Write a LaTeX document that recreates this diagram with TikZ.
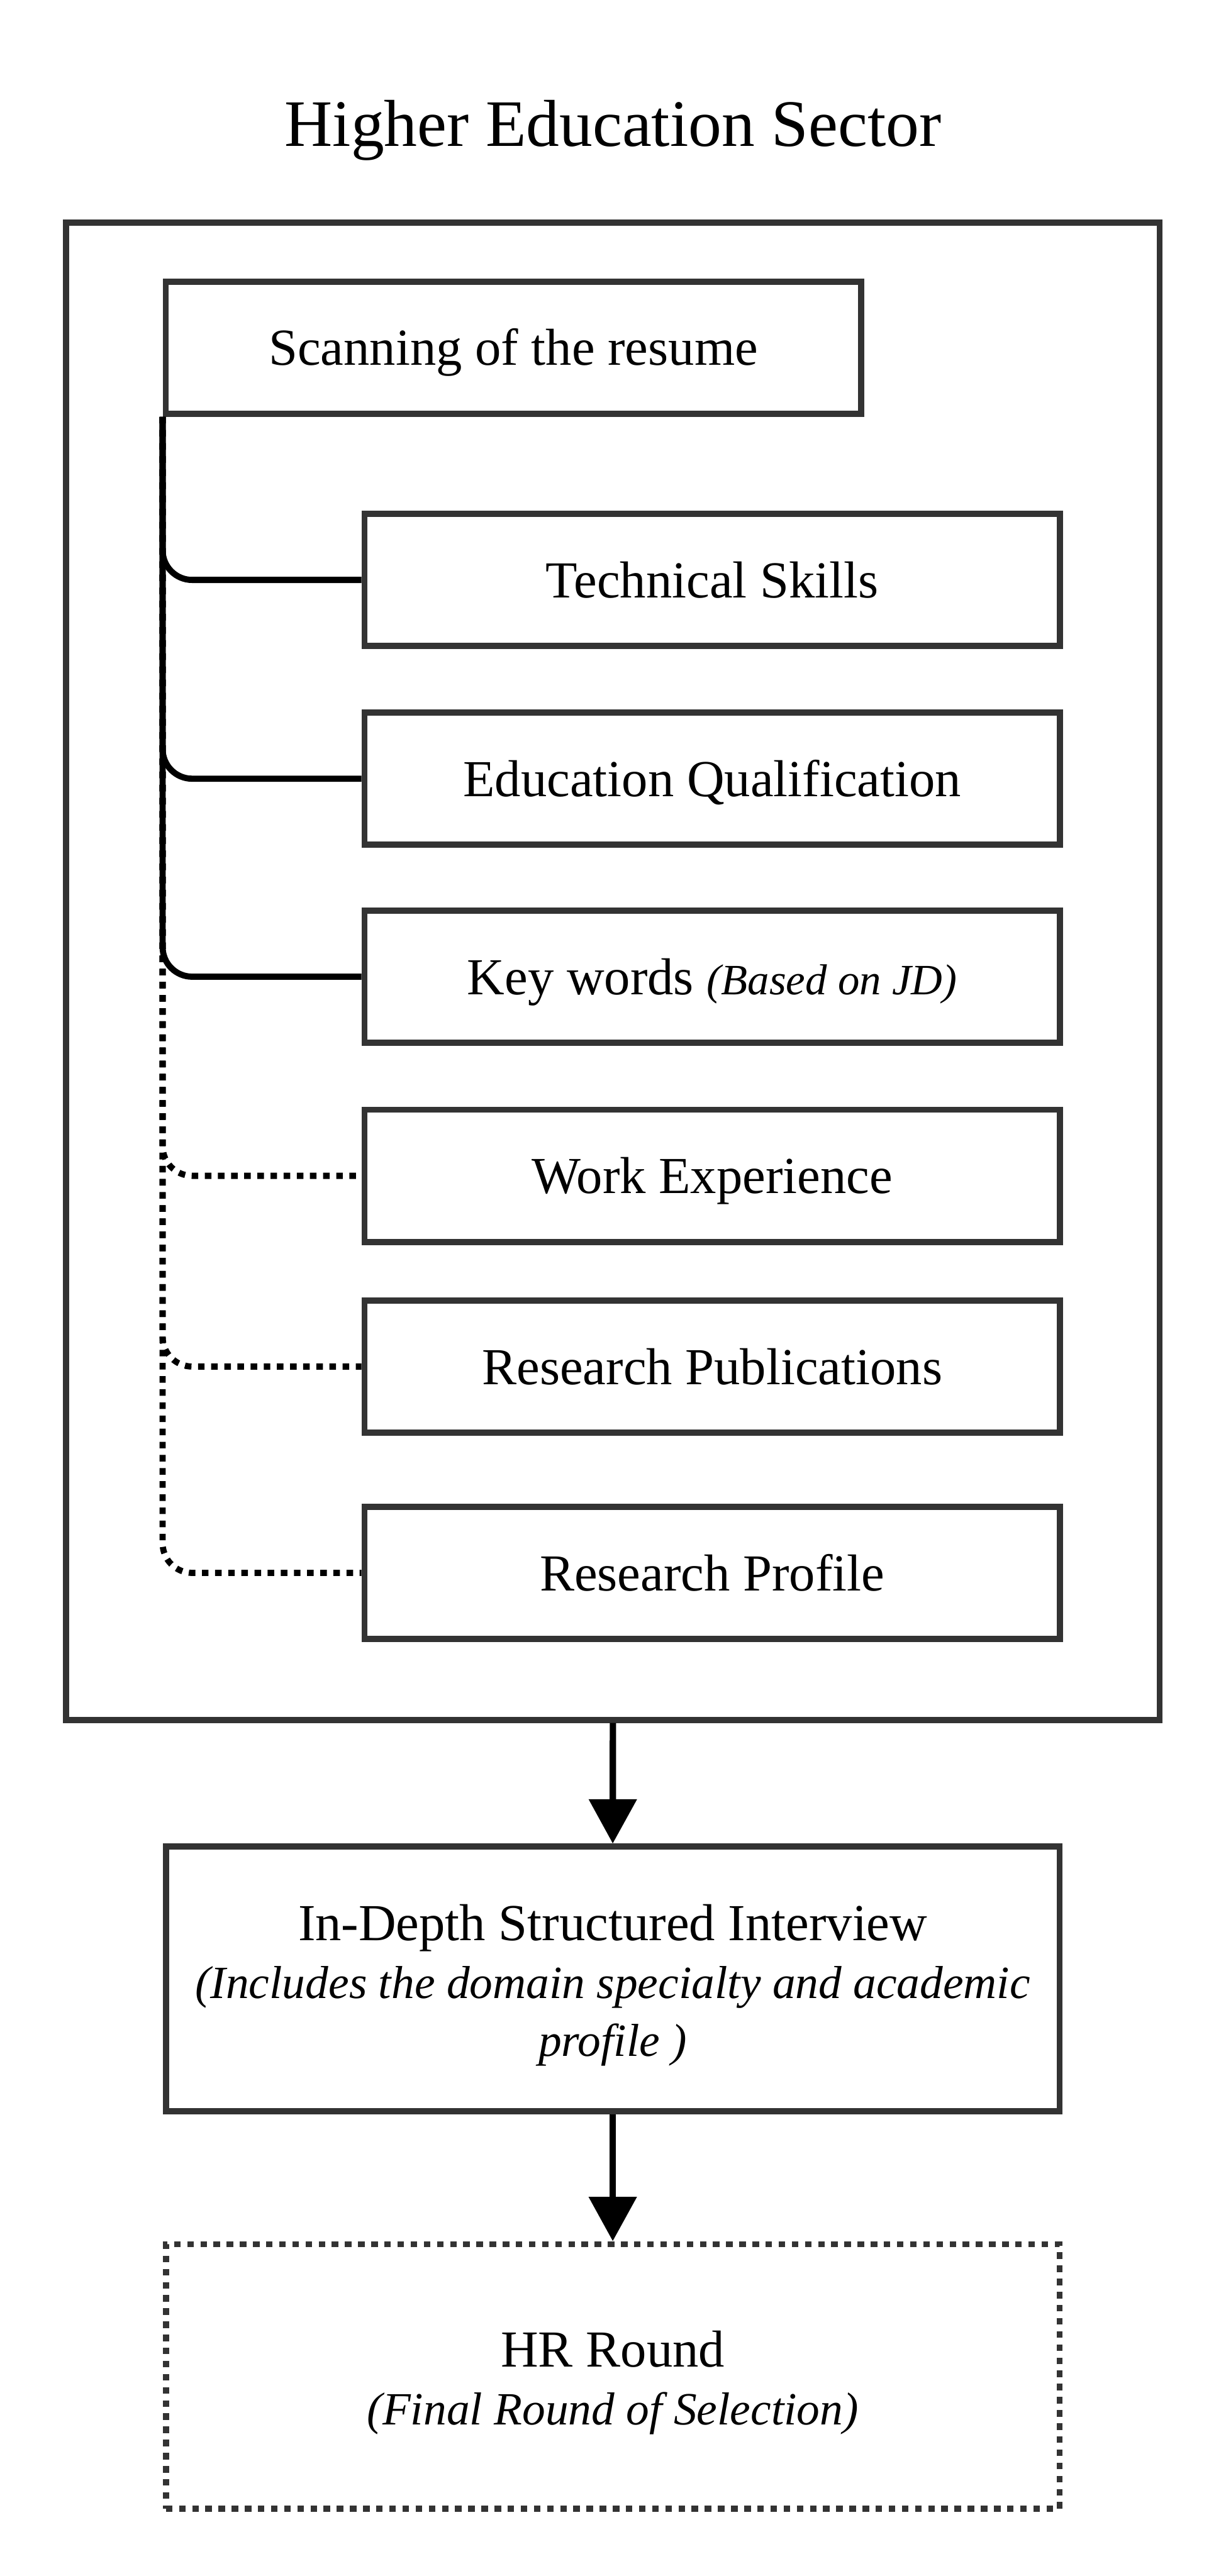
\documentclass[tikz,border=0pt]{standalone}
\usepackage{fontspec}
\setmainfont{Liberation Serif}
\usetikzlibrary{arrows.meta,positioning}
\definecolor{boxgray}{HTML}{333333}
\newcommand\titlefont{\fontsize{23}{27}\selectfont}
\newcommand\boxfont{\fontsize{18}{20}\selectfont}
\newcommand\notefont{\fontsize{16}{20}\selectfont}
\newcommand\keyfont{\fontsize{15}{18}\selectfont}

\begin{document}
\begin{tikzpicture}[x=0.02cm, y=-0.02cm,
    box/.style={rectangle, draw=boxgray, line width=0.075cm, inner sep=0pt, align=center, font=\boxfont},
    itembox/.style={box, minimum width=8.464cm, minimum height=1.61cm, text height=12.3pt, text depth=0pt},
    stagebox/.style={box, minimum width=10.88cm, minimum height=3.22cm, font=\notefont},
    branchline/.style={draw=black, line width=0.075cm, rounded corners=0.36cm},
    dotline/.style={branchline, dash pattern=on 0.08cm off 0.08cm},
    stagearrow/.style={draw=black, line width=0.078cm, -{Triangle[width=0.57cm,length=0.54cm]}}]
    %Page size - unit is one pixel of the 746 x 1568 sketch%
    %===========================================================
    \useasboundingbox (0,0) rectangle (746,1568);
    \def \ItemX {433.4}; %Center of the resume items
    \def \FirstLine {\rule{0pt}{17pt}}; %Pushes the text of the stage boxes a little down
    %Title and sector frame%
    %===========================================================
    \node[font=\titlefont, anchor=base] (title) at (373,89) {Higher Education Sector};
    \node[box, minimum width=13.31cm, minimum height=18.23cm] (sector) at (373,591.25) {}; %Frame round the scanning step
    \node[itembox] (scan) at (312.4,211.6) {Scanning of the resume};
    %Resume items%
    %===========================================================
    \node[itembox] (tech) at (\ItemX,353) {Technical Skills};
    \node[itembox] (edu) at (\ItemX,474) {Education Qualification};
    \node[itembox] (keys) at (\ItemX,594.5) {Key words {\keyfont\itshape (Based on JD)}};
    \node[itembox] (work) at (\ItemX,715.7) {Work Experience};
    \node[itembox] (pubs) at (\ItemX,831.8) {Research Publications};
    \node[itembox] (profile) at (\ItemX,957.4) {Research Profile};
    %Branches - solid ones are required, dotted ones optional
    \draw[dotline] (scan.south west) |- (work.west);
    \draw[dotline] (scan.south west) |- (pubs.west);
    \draw[dotline] (scan.south west) |- (profile.west);
    \draw[branchline] (scan.south west) |- (tech.west);
    \draw[branchline] (scan.south west) |- (edu.west);
    \draw[branchline] (scan.south west) |- (keys.west);
    %Later stages%
    %===========================================================
    \node[stagebox] (interview) at (372.9,1204.5) {{\boxfont\FirstLine In-Depth Structured Interview}\\ \textit{(Includes the domain specialty and academic}\\ \textit{profile )}};
    \node[stagebox, dash pattern=on 0.08cm off 0.08cm] (hr) at (372.9,1446.5) {{\boxfont\FirstLine HR Round}\\ \textit{(Final Round of Selection)}};
    \draw[stagearrow] (sector.south) -- (interview.north);
    \draw[stagearrow] (interview.south) -- (hr.north);
\end{tikzpicture}
\end{document}
